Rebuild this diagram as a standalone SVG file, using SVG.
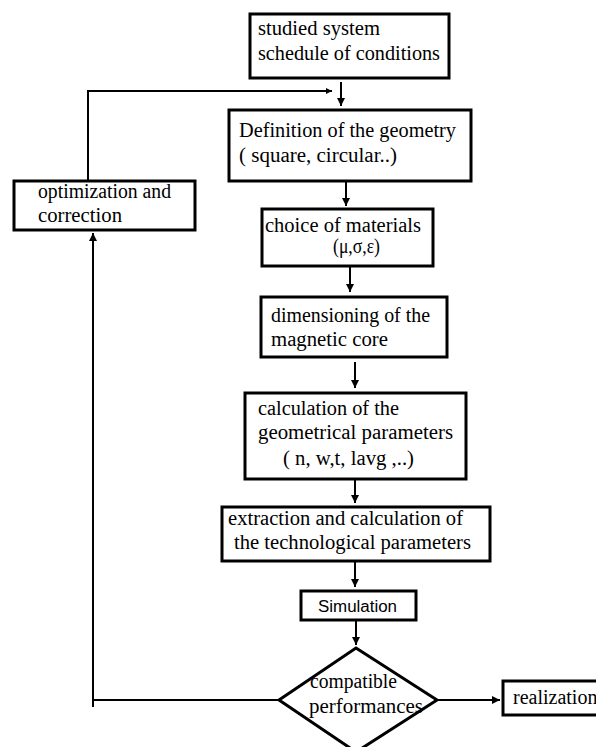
<svg xmlns="http://www.w3.org/2000/svg" width="596" height="747" viewBox="0 0 596 747">
<defs>
<marker id="ah" viewBox="0 0 10 10" refX="10" refY="5" markerWidth="4" markerHeight="4" orient="auto" markerUnits="strokeWidth">
<path d="M0,0 L10,5 L0,10 z" fill="#000"/>
</marker>
<marker id="ahs" viewBox="0 0 10 10" refX="10" refY="5" markerWidth="3" markerHeight="3" orient="auto" markerUnits="strokeWidth">
<path d="M0,0 L10,5 L0,10 z" fill="#000"/>
</marker>
</defs>
<style>
.box{fill:#fff;stroke:#000;stroke-width:3}
.t{font-family:"Liberation Serif","DejaVu Serif","Times New Roman",serif;font-size:20px;fill:#000}
.s{font-family:"Liberation Sans",Arial,sans-serif;font-size:16px;fill:#000}
.c{fill:none;stroke:#000;stroke-width:2}
</style>
<rect width="596" height="747" fill="#fff"/>
<g id="connectors">
<path class="c" d="M88,180 V91 H332" marker-end="url(#ahs)"/>
<path class="c" d="M341,82 V106" marker-end="url(#ah)"/>
<path class="c" d="M346,182 V206" marker-end="url(#ah)"/>
<path class="c" d="M350,267 V292" marker-end="url(#ah)"/>
<path class="c" d="M355,362 V388" marker-end="url(#ah)"/>
<path class="c" d="M355,480 V503" marker-end="url(#ah)"/>
<path class="c" d="M355,562 V587" marker-end="url(#ah)"/>
<path class="c" d="M356,621 V645" marker-end="url(#ah)"/>
<path class="c" d="M279,700 H93 V233" marker-end="url(#ah)"/>
<path class="c" d="M93,700 V707"/>
<path class="c" d="M437,700 H500" marker-end="url(#ah)"/>
</g>
<g id="n1">
<rect class="box" x="250" y="14" width="199" height="64"/>
<text class="t" x="258" y="35" textLength="122" lengthAdjust="spacingAndGlyphs">studied system</text>
<text class="t" x="258" y="60" textLength="182" lengthAdjust="spacingAndGlyphs">schedule of conditions</text>
</g>
<g id="n2">
<rect class="box" x="229" y="110" width="242" height="71"/>
<text class="t" x="239" y="137" textLength="217" lengthAdjust="spacingAndGlyphs">Definition of the geometry</text>
<text class="t" x="239" y="162" textLength="158" lengthAdjust="spacingAndGlyphs">( square, circular..)</text>
</g>
<g id="opt">
<rect class="box" x="14" y="181" width="181" height="49"/>
<text class="t" x="38" y="198" textLength="133" lengthAdjust="spacingAndGlyphs">optimization and</text>
<text class="t" x="38" y="222" textLength="84" lengthAdjust="spacingAndGlyphs">correction</text>
</g>
<g id="n3">
<rect class="box" x="262" y="209" width="171" height="57"/>
<text class="t" x="265" y="232" textLength="156" lengthAdjust="spacingAndGlyphs">choice of materials</text>
<text class="t" x="333" y="253" textLength="47" lengthAdjust="spacingAndGlyphs">(μ,σ,ε)</text>
</g>
<g id="n4">
<rect class="box" x="261" y="297" width="186" height="60"/>
<text class="t" x="271" y="322" textLength="159" lengthAdjust="spacingAndGlyphs">dimensioning of the</text>
<text class="t" x="271" y="346" textLength="117" lengthAdjust="spacingAndGlyphs">magnetic core</text>
</g>
<g id="n5">
<rect class="box" x="245" y="393" width="221" height="86"/>
<text class="t" x="258" y="415" textLength="141" lengthAdjust="spacingAndGlyphs">calculation of the</text>
<text class="t" x="258" y="439" textLength="195" lengthAdjust="spacingAndGlyphs">geometrical parameters</text>
<text class="t" x="283" y="465" textLength="131" lengthAdjust="spacingAndGlyphs">( n, w,t, lavg ,..)</text>
</g>
<g id="n6">
<rect class="box" x="222" y="507" width="268" height="54"/>
<text class="t" x="228" y="525" textLength="235" lengthAdjust="spacingAndGlyphs">extraction and calculation of</text>
<text class="t" x="234" y="549" textLength="237" lengthAdjust="spacingAndGlyphs">the technological parameters</text>
</g>
<g id="sim">
<rect class="box" x="301" y="591" width="115" height="29"/>
<text class="s" x="318" y="612" textLength="79" lengthAdjust="spacingAndGlyphs">Simulation</text>
</g>
<g id="dec">
<polygon points="356,648 437,700 356,752 279,700" fill="#fff" stroke="#000" stroke-width="3"/>
<text class="t" x="310" y="688" textLength="87" lengthAdjust="spacingAndGlyphs">compatible</text>
<text class="t" x="309" y="713" textLength="114" lengthAdjust="spacingAndGlyphs">performances</text>
</g>
<g id="real">
<rect class="box" x="503" y="681" width="110" height="34"/>
<text class="t" x="513" y="704">realization</text>
</g>
</svg>
